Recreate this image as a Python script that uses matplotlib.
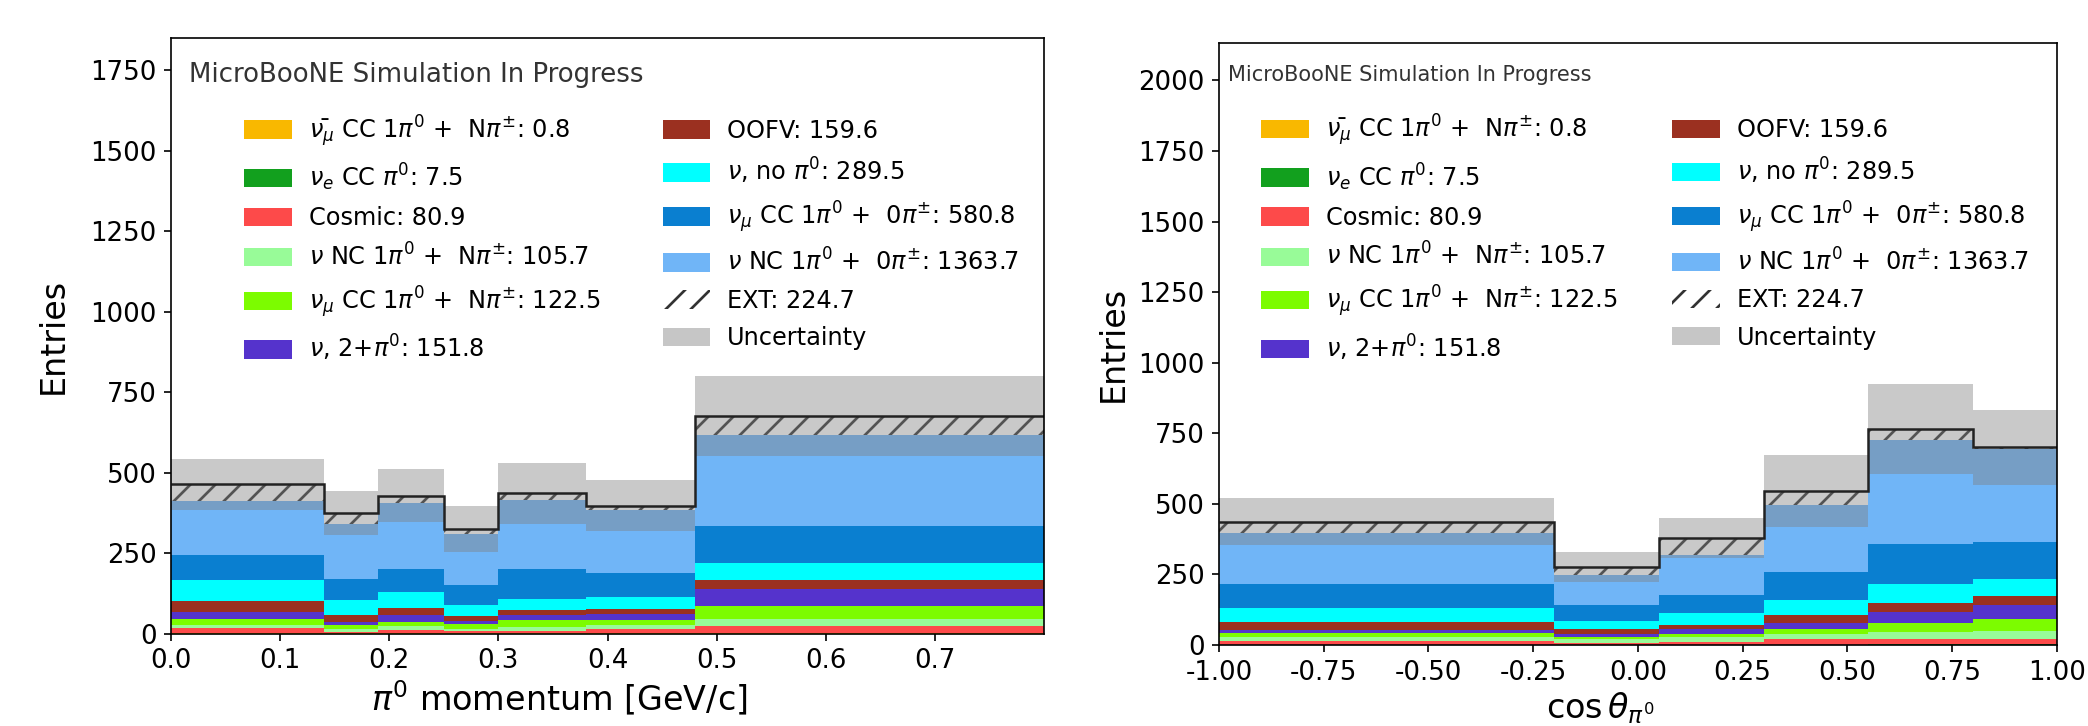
import numpy as np
import matplotlib.pyplot as plt
from matplotlib.patches import Patch

# bin edges
edges_mom = [0.0, 0.14, 0.19, 0.25, 0.30, 0.38, 0.48, 0.80]
edges_cos = [-1.0, -0.2, 0.05, 0.30, 0.55, 0.80, 1.0]

# pi0 momentum, stacked components (bottom -> top)
mom_antinumu = [0.1, 0.1, 0.1, 0.1, 0.1, 0.1, 0.2]
mom_nue = [1.0, 0.5, 1.0, 0.5, 1.0, 1.0, 2.5]
mom_cosmic = [15.4, 5.4, 11.3, 6.4, 6.9, 13.4, 20.3]
mom_nc_npi = [8.5, 8.5, 10.4, 7.5, 13.0, 11.5, 23.6]
mom_numu_npi = [20.5, 10.5, 14.2, 13.5, 20.0, 17.5, 38.4]
mom_multi_pi0 = [20.5, 10.0, 19.0, 10.0, 18.0, 18.5, 52.0]
mom_oofv = [34.0, 23.0, 23.0, 16.0, 15.5, 14.6, 29.0]
mom_no_pi0 = [66.0, 45.5, 49.0, 33.0, 33.5, 37.4, 52.0]
mom_numu_0pi = [79.0, 66.5, 73.0, 65.0, 93.0, 74.0, 115.0]
mom_nc_0pi = [166.0, 171.5, 203.0, 158.0, 213.0, 197.0, 285.0]
mom_ext = [52.0, 33.0, 24.5, 15.0, 21.0, 12.0, 57.0]
mom_err = [79.0, 69.0, 82.0, 72.0, 95.0, 79.0, 125.0]

# cos theta, stacked components (bottom -> top)
cos_antinumu = [0.1, 0.1, 0.1, 0.1, 0.2, 0.2]
cos_nue = [1.5, 1.0, 1.0, 1.5, 1.5, 1.5]
cos_cosmic = [13.4, 6.9, 10.9, 19.4, 19.3, 20.7]
cos_nc_npi = [13.0, 12.0, 15.0, 18.0, 24.0, 28.6]
cos_numu_npi = [15.6, 9.5, 11.0, 16.5, 34.0, 40.0]
cos_multi_pi0 = [9.4, 9.5, 17.5, 21.5, 39.0, 50.7]
cos_oofv = [29.5, 16.5, 15.5, 29.0, 29.6, 31.9]
cos_no_pi0 = [47.5, 30.5, 41.0, 53.4, 68.4, 61.4]
cos_numu_0pi = [84.6, 55.7, 65.0, 100.6, 140.7, 130.0]
cos_nc_0pi = [180.4, 106.3, 142.0, 236.0, 369.3, 328.0]
cos_ext = [41.0, 29.5, 59.0, 49.6, 38.0, 7.0]
cos_err = [83.0, 53.0, 71.0, 127.0, 159.5, 132.6]

labels = [
    r'$\bar{\nu_{\mu}}$ CC 1$\pi^0$ +  N$\pi^{\pm}$: 0.8',
    r'$\nu_e$ CC $\pi^0$: 7.5',
    'Cosmic: 80.9',
    r'$\nu$ NC 1$\pi^0$ +  N$\pi^{\pm}$: 105.7',
    r'$\nu_{\mu}$ CC 1$\pi^0$ +  N$\pi^{\pm}$: 122.5',
    r'$\nu$, 2+$\pi^0$: 151.8',
    'OOFV: 159.6',
    r'$\nu$, no $\pi^0$: 289.5',
    r'$\nu_{\mu}$ CC 1$\pi^0$ +  0$\pi^{\pm}$: 580.8',
    r'$\nu$ NC 1$\pi^0$ +  0$\pi^{\pm}$: 1363.7',
]
colors = ['#f9b800', '#12a01e', '#fd4a4a', '#98fb98', '#7cfc00',
          '#5533cc', '#9b3020', '#00ffff', '#0a7fd0', '#70b5f7']

plt.rcParams['hatch.linewidth'] = 1.3


def draw(ax, edges, comps, ext, err):
    edges = np.array(edges)
    left = edges[:-1]
    width = np.diff(edges)
    bottom = np.zeros(len(left))
    for vals, c in zip(comps, colors):
        ax.bar(left, vals, width=width, bottom=bottom, align='edge',
               color=c, linewidth=0)
        bottom = bottom + np.array(vals)
    ax.bar(left, ext, width=width, bottom=bottom, align='edge',
           facecolor='white', edgecolor='#333333', hatch='//', linewidth=0)
    total = bottom + np.array(ext)
    err = np.array(err)
    ax.bar(left, 2 * err, width=width, bottom=total - err, align='edge',
           color='grey', alpha=0.42, linewidth=0)
    ax.stairs(total, edges, baseline=None, color='#222222', linewidth=1.2)
    ax.set_xlim(edges[0], edges[-1])
    ax.tick_params(labelsize=12.5)


def add_legend(ax, anchor, title_pos, title_size, colsp):
    handles = [Patch(facecolor=c, linewidth=0) for c in colors]
    handles.append(Patch(facecolor='white', edgecolor='#333333', hatch='//', linewidth=0))
    handles.append(Patch(facecolor='#c6c6c6', linewidth=0))
    labs = labels + ['EXT: 224.7', 'Uncertainty']
    ax.legend(handles, labs, ncol=2, loc='upper left', bbox_to_anchor=anchor,
              frameon=False, fontsize=11.5, borderpad=0, borderaxespad=0,
              handlelength=2.0, handleheight=0.8, columnspacing=colsp,
              labelspacing=0.55, handletextpad=0.7)
    ax.text(title_pos[0], title_pos[1], 'MicroBooNE Simulation In Progress',
            transform=ax.transAxes, fontsize=title_size, va='center', ha='left',
            color='#333333')


fig = plt.figure(figsize=(13.92, 4.84), dpi=150)
ax1 = fig.add_axes([0.0819, 0.1274, 0.4181, 0.8209])
ax2 = fig.add_axes([0.5838, 0.1116, 0.4013, 0.8285])

draw(ax1, edges_mom,
     [mom_antinumu, mom_nue, mom_cosmic, mom_nc_npi, mom_numu_npi, mom_multi_pi0,
      mom_oofv, mom_no_pi0, mom_numu_0pi, mom_nc_0pi], mom_ext, mom_err)
ax1.set_ylim(0, 1851)
ax1.set_yticks(np.arange(0, 1751, 250))
ax1.set_xticks(np.arange(0, 0.75, 0.1))
ax1.set_xlabel(r'$\pi^0$ momentum [GeV/c]', fontsize=16)
ax1.xaxis.set_label_coords(0.445, -0.075, transform=ax1.transAxes)
ax1.set_ylabel('Entries', fontsize=16)
ax1.yaxis.set_label_coords(-0.116, 0.5, transform=ax1.transAxes)
add_legend(ax1, (0.0836, 0.874), (0.0206, 0.937), 12.5, 2.6)

draw(ax2, edges_cos,
     [cos_antinumu, cos_nue, cos_cosmic, cos_nc_npi, cos_numu_npi, cos_multi_pi0,
      cos_oofv, cos_no_pi0, cos_numu_0pi, cos_nc_0pi], cos_ext, cos_err)
ax2.set_ylim(0, 2131)
ax2.set_yticks(np.arange(0, 2001, 250))
ax2.set_xticks(np.arange(-1.0, 1.01, 0.25))
ax2.xaxis.set_major_formatter(plt.FormatStrFormatter('%.2f'))
ax2.set_xlabel(r'$\cos\theta_{\pi^0}$', fontsize=16)
ax2.xaxis.set_label_coords(0.455, -0.075, transform=ax2.transAxes)
ax2.set_ylabel('Entries', fontsize=16)
add_legend(ax2, (0.05, 0.886), (0.0107, 0.9476), 10.0, 2.3)

fig.savefig('out.png', dpi=150)
